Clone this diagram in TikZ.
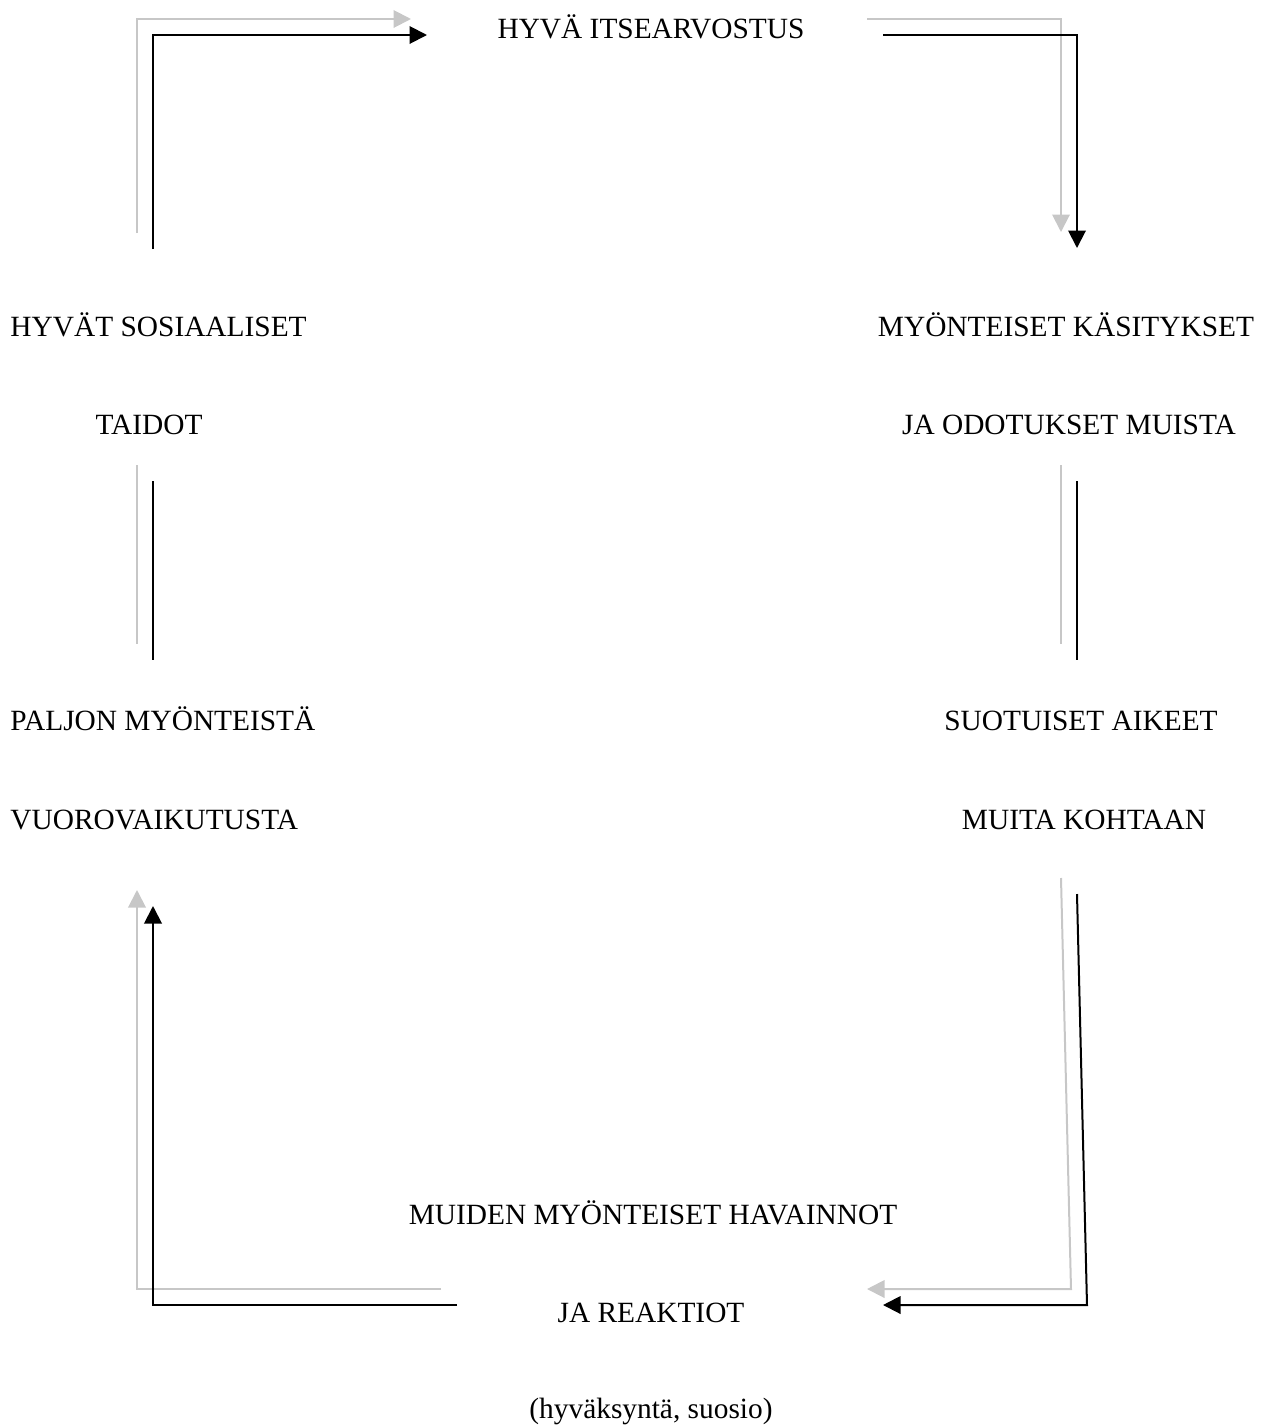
\documentclass[tikz,border=0pt]{standalone}
\usepackage{fontspec}
\setmainfont{Liberation Serif}
\usetikzlibrary{arrows.meta}

\tikzset{
  txt/.style={font=\fontsize{11.75}{14}\selectfont, inner sep=0pt},
  flow/.style={line width=0.8pt, -{Triangle[length=7pt,width=7pt]}},
  link/.style={line width=0.8pt},
  ghost/.style={draw=black!22, transform canvas={shift={(-6.4pt,6.4pt)}}},
  solid/.style={draw=black}
}

\begin{document}
\begin{tikzpicture}[x=0.4pt,y=-0.4pt]
\useasboundingbox (0,0) rectangle (1266,1427);

% Texts
\node[txt, anchor=base] (itse) at (651,38) {HYVÄ ITSEARVOSTUS};
\node[txt, anchor=base west] (sos1) at (10,336) {HYVÄT SOSIAALISET};
\node[txt, anchor=base] (sos2) at (149,434) {TAIDOT};
\node[txt, anchor=base] (kas1) at (1066,336) {MYÖNTEISET KÄSITYKSET};
\node[txt, anchor=base] (kas2) at (1069,434) {JA ODOTUKSET MUISTA};
\node[txt, anchor=base west] (vuo1) at (10,730) {PALJON MYÖNTEISTÄ};
\node[txt, anchor=base west] (vuo2) at (10,829) {VUOROVAIKUTUSTA};
\node[txt, anchor=base] (aik1) at (1081,730) {SUOTUISET AIKEET};
\node[txt, anchor=base] (aik2) at (1084,829) {MUITA KOHTAAN};
\node[txt, anchor=base] (hav1) at (653,1224) {MUIDEN MYÖNTEISET HAVAINNOT};
\node[txt, anchor=base] (hav2) at (651,1322) {JA REAKTIOT};
\node[txt, anchor=base] (hav3) at (651,1418) {(hyväksyntä, suosio)};

% Connector ends
\coordinate (tl1) at (153,249);
\coordinate (tl2) at (427,35);
\coordinate (tr1) at (883,35);
\coordinate (tr2) at (1077,248);
\coordinate (rm1) at (1077,481);
\coordinate (rm2) at (1077,660);
\coordinate (lm1) at (153,481);
\coordinate (lm2) at (153,660);
\coordinate (br1) at (1077,894);
\coordinate (br2) at (1087,1305);
\coordinate (br3) at (883,1305);
\coordinate (bl1) at (457,1305);
\coordinate (bl2) at (153,906);

% Arrows, grey copy first
\foreach \lay in {ghost, solid} {
  \draw[flow, \lay] (tl1) |- (tl2);
  \draw[flow, \lay] (tr1) -| (tr2);
  \draw[link, \lay] (rm1) -- (rm2);
  \draw[link, \lay] (lm1) -- (lm2);
  \draw[flow, \lay] (br1) -- (br2) -- (br3);
  \draw[flow, \lay] (bl1) -| (bl2);
}
\end{tikzpicture}
\end{document}
